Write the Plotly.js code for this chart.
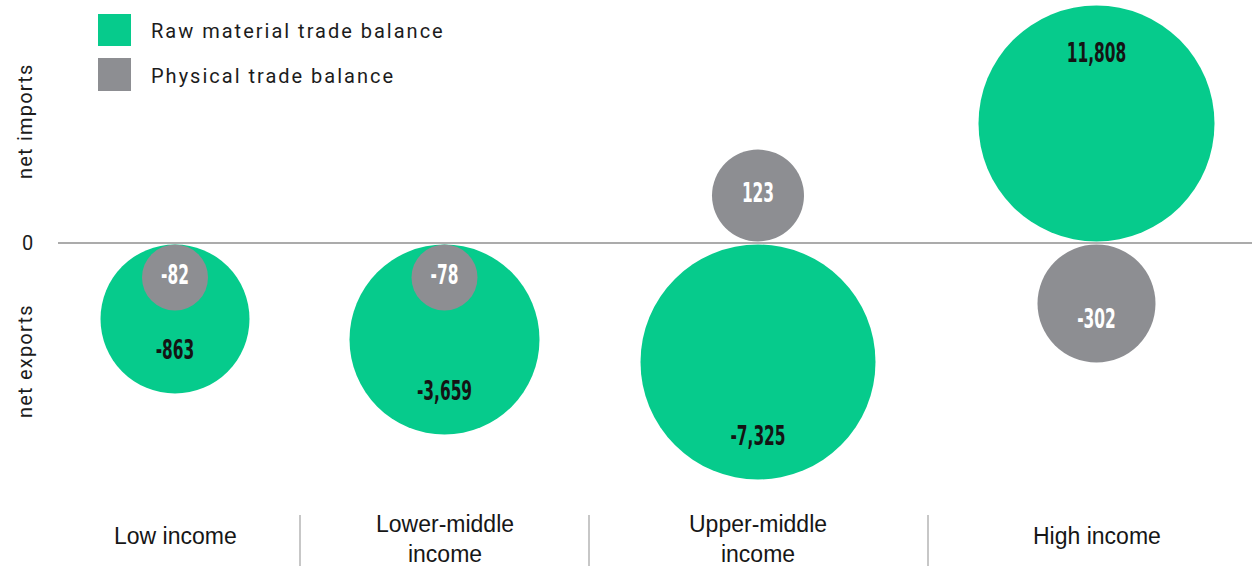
<!DOCTYPE html>
<html>
<head>
<meta charset="utf-8">
<script src="https://cdn.plot.ly/plotly-3.0.1.min.js"></script>
<style>
  html, body { margin: 0; padding: 0; background: #ffffff; }
  #chart { width: 1252px; height: 566px; }
  /* condensed look for the bubble value labels */
  #chart g.textpoint text {
    transform-box: fill-box;
    transform-origin: center;
    transform: scaleX(0.66);
  }
</style>
</head>
<body>
<div id="chart"></div>
<script>
// ---- data ----
const categories = ['Low income', 'Lower-middle<br>income', 'Upper-middle<br>income', 'High income'];
const rawMaterial = [-863, -3659, -7325, 11808];   // Raw material trade balance
const physical = [-82, -78, 123, -302];             // Physical trade balance
const seriesNames = ['Raw material trade balance', 'Physical trade balance'];

// ---- layout settings (positions / sizes / styles) ----
const W = 1252, H = 566;
const zeroPx = 243;                 // pixel row of the zero line
const plotLeft = 58;
const xPos = [175, 444.5, 758, 1096.5];
const rawSize = [149, 190, 235, 236];
const physSize = [66, 66, 92, 118];
const dividerX = [300, 589, 928];
const gap = 1.5;
const negInset = 41, posInset = 50;
const GREEN = '#06CB8C';
const GREY = '#8D8E92';
const LABEL_FONT = 'Liberation Sans Narrow, Arial Narrow, DejaVu Sans Condensed, sans-serif';
const TEXT_FONT = 'Roboto, Liberation Sans, sans-serif';

function centers(vals, sizes) {
  return vals.map((v, i) => Math.sign(v) * (sizes[i] / 2 + gap));
}
function labelY(vals, sizes) {
  return vals.map((v, i) => {
    const c = Math.sign(v) * (sizes[i] / 2 + gap);
    const far = Math.sign(v) * (sizes[i] + gap);
    return v < 0 ? Math.min(c, far + negInset) : Math.max(c, far - posInset);
  });
}
const fmt = v => v.toLocaleString('en-US');

const traces = [
  {
    type: 'scatter', mode: 'markers', name: seriesNames[0],
    x: xPos, y: centers(rawMaterial, rawSize),
    marker: { size: rawSize, color: GREEN, opacity: 1, line: { width: 0 } },
    cliponaxis: false, showlegend: false, hoverinfo: 'skip'
  },
  {
    type: 'scatter', mode: 'markers', name: seriesNames[1],
    x: xPos, y: centers(physical, physSize),
    marker: { size: physSize, color: GREY, opacity: 1, line: { width: 0 } },
    cliponaxis: false, showlegend: false, hoverinfo: 'skip'
  },
  {
    type: 'scatter', mode: 'text',
    x: xPos, y: labelY(rawMaterial, rawSize),
    text: rawMaterial.map(fmt), textposition: 'middle center',
    textfont: { family: LABEL_FONT, size: 26, weight: 'bold', color: '#141414' },
    cliponaxis: false, showlegend: false, hoverinfo: 'skip'
  },
  {
    type: 'scatter', mode: 'text',
    x: xPos, y: labelY(physical, physSize),
    text: physical.map(fmt), textposition: 'middle center',
    textfont: { family: LABEL_FONT, size: 26, weight: 'bold', color: '#ffffff' },
    cliponaxis: false, showlegend: false, hoverinfo: 'skip'
  }
];

const py = p => zeroPx - p;                 // pixel row -> y value
const ls = (t, s) => '<span style="letter-spacing:' + s + 'px">' + t + '</span>';

const annotations = [];
categories.forEach((c, i) => {
  annotations.push({
    xref: 'x', yref: 'y', x: xPos[i], y: py(c.indexOf('<br>') >= 0 ? 539 : 536),
    text: c, showarrow: false, xanchor: 'center', yanchor: 'middle', align: 'center',
    font: { family: 'Liberation Sans, Arial, sans-serif', size: 23, color: '#161616' }
  });
});
// legend labels
[[31, seriesNames[0]], [76, seriesNames[1]]].forEach(([yy, t]) => {
  annotations.push({
    xref: 'x', yref: 'y', x: 149, y: py(yy), text: ls(t, 2.0), showarrow: false,
    xanchor: 'left', yanchor: 'middle',
    font: { family: TEXT_FONT, size: 20, color: '#1c1c1c' }
  });
});
// axis side labels
const toPaperX = px => (px - plotLeft) / (W - plotLeft);
annotations.push({
  xref: 'paper', yref: 'y', x: toPaperX(25), y: py(121), text: ls('net imports', 1.2),
  textangle: -90, showarrow: false, xanchor: 'center', yanchor: 'middle',
  font: { family: TEXT_FONT, size: 20, color: '#1c1c1c' }
});
annotations.push({
  xref: 'paper', yref: 'y', x: toPaperX(25), y: py(361), text: ls('net exports', 1.2),
  textangle: -90, showarrow: false, xanchor: 'center', yanchor: 'middle',
  font: { family: TEXT_FONT, size: 20, color: '#1c1c1c' }
});
annotations.push({
  xref: 'paper', yref: 'y', x: toPaperX(27), y: 0, text: '0',
  showarrow: false, xanchor: 'center', yanchor: 'middle',
  font: { family: TEXT_FONT, size: 20, color: '#1c1c1c' }
});

const shapes = [];
dividerX.forEach(x => {
  shapes.push({ type: 'line', xref: 'x', yref: 'y', x0: x, x1: x, y0: py(515), y1: py(566),
    line: { color: '#b4b4b4', width: 1.5 } });
});
// legend swatches
shapes.push({ type: 'rect', xref: 'x', yref: 'y', x0: 98, x1: 131, y0: py(14), y1: py(46),
  fillcolor: GREEN, line: { width: 0 } });
shapes.push({ type: 'rect', xref: 'x', yref: 'y', x0: 98, x1: 131, y0: py(58), y1: py(91),
  fillcolor: GREY, line: { width: 0 } });

const layout = {
  width: W, height: H,
  margin: { l: plotLeft, r: 0, t: 0, b: 0, pad: 0 },
  paper_bgcolor: '#ffffff', plot_bgcolor: '#ffffff',
  showlegend: false,
  hovermode: false,
  xaxis: { range: [plotLeft, W], showgrid: false, zeroline: false, showticklabels: false,
    showline: false, ticks: '', fixedrange: true },
  yaxis: { range: [zeroPx - H, zeroPx], showgrid: false, zeroline: true,
    zerolinecolor: '#ababab', zerolinewidth: 1.2, showticklabels: false, showline: false,
    ticks: '', fixedrange: true },
  annotations: annotations,
  shapes: shapes
};

Plotly.newPlot('chart', traces, layout, { staticPlot: true, displayModeBar: false });
</script>
</body>
</html>
